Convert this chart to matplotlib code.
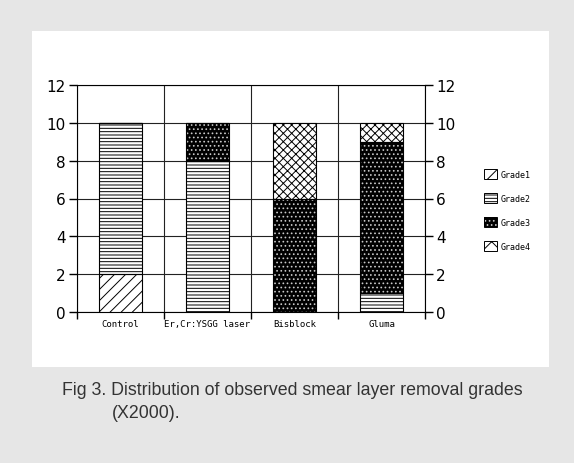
import numpy as np
import matplotlib.pyplot as plt
from matplotlib.patches import Rectangle

# values
groups = ['Control', 'Er,Cr:YSGG laser', 'Bisblock', 'Gluma']
grade1 = [2, 0, 0, 0]
grade2 = [8, 8, 0, 1]
grade3 = [0, 2, 6, 8]
grade4 = [0, 0, 4, 1]
yticks = [0, 2, 4, 6, 8, 10, 12]

plt.rcParams['hatch.linewidth'] = 0.7

fig = plt.figure(figsize=(5.74, 4.64), dpi=100)
fig.patch.set_facecolor('#e6e6e6')
# white panel behind the chart
fig.patches.append(Rectangle((32 / 574, 1 - 368 / 464), 517 / 574, 336 / 464,
                             transform=fig.transFigure, facecolor='white',
                             edgecolor='none', zorder=-5))

ax = fig.add_axes([77 / 574, 1 - 313 / 464, 348 / 574, 227 / 464])
ax.set_zorder(2)
x = np.arange(len(groups))
w = 0.5

# name, values, face, hatch colour, hatch in bars, hatch in legend
styles = [
    ('Grade1', grade1, 'white', 'black', '///', '/'),
    ('Grade2', grade2, 'white', 'black', '-----', '-----'),
    ('Grade3', grade3, 'black', '#c8c8c8', '....', '....'),
    ('Grade4', grade4, 'white', 'black', 'xxxx', 'xx'),
]
bottom = np.zeros(len(groups))
handles = []
for name, vals, fc, hc, hatch, lhatch in styles:
    vals = np.array(vals, dtype=float)
    ax.bar(x, vals, w, bottom=bottom, color=fc, edgecolor=hc, hatch=hatch,
           linewidth=0, zorder=3)
    ax.bar(x, vals, w, bottom=bottom, fill=False, edgecolor='black',
           linewidth=0.8, zorder=4)
    handles.append(Rectangle((0, 0), 1, 1, facecolor=fc, edgecolor=hc,
                             hatch=lhatch, linewidth=0))
    bottom += vals

ax.set_xlim(-0.5, len(groups) - 0.5)
ax.set_ylim(0, 12)
ax.set_yticks(yticks)
ax.tick_params(axis='y', labelsize=11, length=6, width=1, direction='out',
               right=True, labelright=True, pad=2)
ax.set_xticks(x)
ax.set_xticklabels(groups, family='DejaVu Sans Mono', fontsize=6.5)
ax.tick_params(axis='x', length=0, pad=5)
ax.set_xticks(np.arange(-0.5, len(groups)), minor=True)
ax.tick_params(axis='x', which='minor', length=5, width=1, direction='out')

for yv in yticks:
    ax.axhline(yv, color='#222222', linewidth=0.8, zorder=1)
for xv in np.arange(-0.5, len(groups)):
    ax.axvline(xv, color='#222222', linewidth=0.8, zorder=1)
for s in ax.spines.values():
    s.set_linewidth(0.8)

leg_kw = dict(loc='upper left', bbox_to_anchor=(476 / 574, 1 - 162 / 464),
              frameon=False, prop={'family': 'DejaVu Sans Mono', 'size': 6},
              handlelength=1.6, handleheight=1.6, labelspacing=1.6,
              handletextpad=0.4)
fig.legend(handles, [s[0] for s in styles], **leg_kw)
# black outlines for the legend keys
fig.legend([Rectangle((0, 0), 1, 1, fill=False, edgecolor='black', linewidth=0.7)
            for _ in styles], ['' for _ in styles], **leg_kw)

fig.text(62 / 574, 1 - 391 / 464,
         'Fig 3. Distribution of observed smear layer removal grades',
         fontsize=12.8, family='Liberation Sans', va='center', color='#333333')
fig.text(112 / 574, 1 - 414 / 464, '(X2000).',
         fontsize=12.8, family='Liberation Sans', va='center', color='#333333')

fig.savefig('out.png', dpi=100, facecolor=fig.get_facecolor())
